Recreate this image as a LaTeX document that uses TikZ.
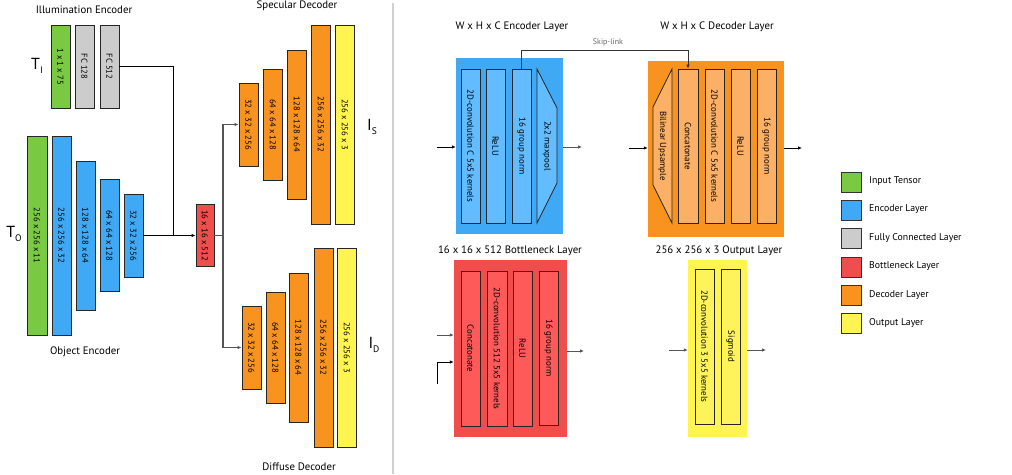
\documentclass[tikz,border=0pt]{standalone}
\usepackage{fontspec}
\setmainfont{PT Sans}
\usetikzlibrary{arrows.meta}
\definecolor{cgreen}{HTML}{7AC943}
\definecolor{cblue}{HTML}{3FA9F5}
\definecolor{cblueL}{HTML}{62BCFF}
\definecolor{cgray}{HTML}{CCCCCC}
\definecolor{cred}{HTML}{F04D4D}
\definecolor{credL}{HTML}{FF5A5A}
\definecolor{corange}{HTML}{F7931E}
\definecolor{corangeL}{HTML}{FBB066}
\definecolor{cyellow}{HTML}{FFF450}
\definecolor{cyellowL}{HTML}{FFF35C}
\definecolor{cline}{HTML}{555555}
\definecolor{csep}{HTML}{D0D0D0}
\newcommand{\vt}[1]{\rotatebox{-90}{#1}}
\tikzset{
  blk/.style={draw=black!85, line width=0.9pt, inner sep=0pt, font=\fontsize{8.6}{9}\selectfont},
  inblk/.style={draw=black!85, line width=0.8pt, inner sep=0pt, font=\fontsize{8.9}{9}\selectfont},
  trtxt/.style={inner sep=0pt, font=\fontsize{8.9}{9}\selectfont},
  cont/.style={draw=none, inner sep=0pt},
  ttl/.style={font=\fontsize{10.8}{11}\selectfont, inner sep=0pt},
  lgd/.style={font=\fontsize{9.8}{10}\selectfont, inner sep=0pt, anchor=west},
  lgbox/.style={draw=black!80, line width=0.9pt, minimum width=20pt, minimum height=20pt, inner sep=0pt},
  arr/.style={-{Latex[length=4pt,width=3.5pt]}, line width=0.9pt, cline},
  arrk/.style={-{Latex[length=4pt,width=3.5pt]}, line width=0.8pt, black},
  ln/.style={line width=0.8pt, black},
}
\begin{document}
\begin{tikzpicture}[x=1pt,y=-1pt]
\useasboundingbox (0,0) rectangle (1012,474);
% separator
\draw[csep, line width=2.5pt] (393,3) -- (393,474);

% ---------- Illumination encoder ----------
\node[ttl] (tIll) at (84,10) {Illumination Encoder};
\node[inner sep=0pt] (TI) at (37,66) {\fontsize{16}{16}\selectfont T\raisebox{-0.45ex}{\fontsize{9.5}{9.5}\selectfont I}};
\node[blk, fill=cgreen, minimum width=19pt, minimum height=83pt] (ig) at (60.5,66.5) {\vt{1 x 1 x 75}};
\node[blk, fill=cgray, minimum width=19pt, minimum height=83pt] (fc1) at (84.5,66.5) {\vt{FC 128}};
\node[blk, fill=cgray, minimum width=19pt, minimum height=83pt] (fc2) at (109.5,66.5) {\vt{FC 512}};

% ---------- Object encoder ----------
\node[inner sep=0pt] (TO) at (14,234) {\fontsize{16}{16}\selectfont T\raisebox{-0.45ex}{\fontsize{9.5}{9.5}\selectfont O}};
\node[blk, fill=cgreen, minimum width=20pt, minimum height=199pt] (og) at (37,235.5) {\vt{256 x 256 x 11}};
\node[blk, fill=cblue, minimum width=19pt, minimum height=199pt] (b1) at (61.5,235.5) {\vt{256 x 256 x 32}};
\node[blk, fill=cblue, minimum width=19pt, minimum height=149pt] (b2) at (85.5,235.5) {\vt{128 x 128 x 64}};
\node[blk, fill=cblue, minimum width=19pt, minimum height=112pt] (b3) at (109.5,235.5) {\vt{64 x 64 x 128}};
\node[blk, fill=cblue, minimum width=19pt, minimum height=83pt] (b4) at (133.5,235.5) {\vt{32 x 32 x 256}};
\node[ttl] (tObj) at (85,352) {Object Encoder};

% bottleneck
\node[blk, fill=cred, minimum width=18pt, minimum height=62pt] (rb) at (205,235.5) {\vt{16 x 16 x 512}};
\coordinate (jn) at (173,235.5);
\coordinate (split) at (223,235.5);
\draw[ln] (fc2.east) -| (jn);
\draw[arrk] (b4.east) -- (rb.west);

% ---------- Specular decoder ----------
\node[ttl] (tSpec) at (297,6) {Specular Decoder};
\node[blk, fill=corange, minimum width=19pt, minimum height=83pt] (s1) at (248.5,124.5) {\vt{32 x 32 x 256}};
\node[blk, fill=corange, minimum width=19.5pt, minimum height=111pt] (s2) at (273,124.5) {\vt{64 x 64 x 128}};
\node[blk, fill=corange, minimum width=19.5pt, minimum height=149pt] (s3) at (297,124.5) {\vt{128 x 128 x 64}};
\node[blk, fill=corange, minimum width=19.5pt, minimum height=199pt] (s4) at (321,124.5) {\vt{256 x 256 x 32}};
\node[blk, fill=cyellow, minimum width=19.5pt, minimum height=199pt] (s5) at (345,124.5) {\vt{256 x 256 x 3}};
\node[inner sep=0pt] (IS) at (372,127) {\fontsize{16}{16}\selectfont I\raisebox{-0.45ex}{\fontsize{9.5}{9.5}\selectfont S}};

% ---------- Diffuse decoder ----------
\node[blk, fill=corange, minimum width=19pt, minimum height=83pt] (d1) at (251.5,347.5) {\vt{32 x 32 x 256}};
\node[blk, fill=corange, minimum width=19pt, minimum height=111pt] (d2) at (275.5,347.5) {\vt{64 x 64 x 128}};
\node[blk, fill=corange, minimum width=19pt, minimum height=149pt] (d3) at (298.5,347.5) {\vt{128 x 128 x 64}};
\node[blk, fill=corange, minimum width=19pt, minimum height=199pt] (d4) at (323.5,347.5) {\vt{256 x 256 x 32}};
\node[blk, fill=cyellow, minimum width=19.5pt, minimum height=199pt] (d5) at (347,347.5) {\vt{256 x 256 x 3}};
\node[inner sep=0pt] (ID) at (374,345) {\fontsize{16}{16}\selectfont I\raisebox{-0.45ex}{\fontsize{9.5}{9.5}\selectfont D}};
\node[ttl] (tDiff) at (299,467) {Diffuse Decoder};

\draw[line width=1.2pt, cline] (rb.east) -- (split);
\draw[arr, line width=1.2pt] (split) |- (s1.west);
\draw[arr, line width=1.2pt] (split) |- (d1.west);

% ---------- Encoder layer detail ----------
\node[ttl] (tEL) at (512,27) {W x H x C Encoder Layer};
\node[cont, fill=cblue, minimum width=107pt, minimum height=176pt] (el) at (509.5,146) {};
\node[inblk, fill=cblueL, minimum width=19pt, minimum height=154pt] (econv) at (470.5,146) {\vt{2D-convolution C 5x5 kernels}};
\node[inblk, fill=cblueL, minimum width=19pt, minimum height=154pt] (erelu) at (495.5,146) {\vt{ReLU}};
\node[inblk, fill=cblueL, minimum width=19pt, minimum height=154pt] (egn) at (521.5,146) {\vt{16 group norm}};
\draw[draw=black!85, line width=0.8pt, fill=cblueL] (537,69) -- (557,108) -- (557,183) -- (537,223) -- cycle;
\node[trtxt] (emp) at (547,146) {\vt{2x2 maxpool}};
\coordinate (ein) at (437,147);
\coordinate (eout) at (582,147);
\draw[arrk] (ein) -- (ein -| el.west);
\draw[arr] (eout -| el.east) -- (eout);

% ---------- Decoder layer detail ----------
\node[ttl] (tDL) at (717,27) {W x H x C Decoder Layer};
\node[cont, fill=corange, minimum width=136pt, minimum height=176pt] (dl) at (716,149) {};
\draw[draw=black!85, line width=0.8pt, fill=corangeL] (653,107) -- (672,69) -- (672,223) -- (653,185) -- cycle;
\node[trtxt] (dup) at (662.5,146) {\vt{Bilinear Upsample}};
\node[inblk, fill=corangeL, minimum width=20pt, minimum height=154pt] (dcat) at (688,146) {\vt{Concatonate}};
\node[inblk, fill=corangeL, minimum width=19pt, minimum height=154pt] (dconv) at (714.5,146) {\vt{2D-convolution C 5x5 kernels}};
\node[inblk, fill=corangeL, minimum width=19pt, minimum height=154pt] (drelu) at (740.5,146) {\vt{ReLU}};
\node[inblk, fill=corangeL, minimum width=19pt, minimum height=154pt] (dgn) at (766.5,146) {\vt{16 group norm}};
\coordinate (din) at (629,148);
\coordinate (dout) at (802,148);
\draw[arrk] (din) -- (din -| dl.west);
\draw[arrk] (dout -| dl.east) -- (dout);

% skip link
\draw[arrk, draw=black!80] (egn.north) -- ++(0,-18) -| (dcat.north);
\node[inner sep=0pt, font=\fontsize{8}{8}\selectfont, text=black!60] (skl) at (608,42) {Skip-link};

% ---------- Bottleneck layer detail ----------
\node[ttl] (tBL) at (510,251) {16 x 16 x 512 Bottleneck Layer};
\node[cont, fill=cred, minimum width=113pt, minimum height=177pt] (bl) at (510.5,348.5) {};
\node[inblk, fill=credL, minimum width=19pt, minimum height=155pt] (bcat) at (470.5,348.5) {\vt{Concatonate}};
\node[inblk, fill=credL, minimum width=20pt, minimum height=155pt] (bconv) at (497,348.5) {\vt{2D-convolution 512 5x5 kernels}};
\node[inblk, fill=credL, minimum width=19pt, minimum height=155pt] (brelu) at (522.5,348.5) {\vt{ReLU}};
\node[inblk, fill=credL, minimum width=19pt, minimum height=154pt] (bgn) at (548.5,348) {\vt{16 group norm}};
\coordinate (bin1) at (437,335);
\coordinate (bin2s) at (437,384);
\coordinate (bin2) at (437,362);
\coordinate (bout) at (584,351);
\draw[arr] (bin1) -- (bin1 -| bl.west);
\draw[arrk] (bin2s) -- (bin2) -- (bin2 -| bl.west);
\draw[arr] (bout -| bl.east) -- (bout);

% ---------- Output layer detail ----------
\node[ttl] (tOL) at (719,251) {256 x 256 x 3 Output Layer};
\node[cont, fill=cyellow, minimum width=59pt, minimum height=177pt] (ol) at (717.5,348.5) {};
\node[inblk, fill=cyellowL, minimum width=19pt, minimum height=155pt] (oconv) at (704.5,346.5) {\vt{2D-convolution 3 5x5 kernels}};
\node[inblk, fill=cyellowL, minimum width=19pt, minimum height=155pt] (osig) at (730.5,346.5) {\vt{Sigmoid}};
\coordinate (oin) at (669,350);
\coordinate (oout) at (766,350);
\draw[arr] (oin) -- (oin -| ol.west);
\draw[arr] (oout -| ol.east) -- (oout);

% ---------- Legend ----------
\node[lgbox, fill=cgreen] (lg1) at (851,182) {};
\node[lgbox, fill=cblue] (lg2) at (851,210) {};
\node[lgbox, fill=cgray] (lg3) at (851,238) {};
\node[lgbox, fill=cred] (lg4) at (851,267) {};
\node[lgbox, fill=corange] (lg5) at (851,295) {};
\node[lgbox, fill=cyellow] (lg6) at (851,323) {};
\node[lgd] (lt1) at (869,181) {Input Tensor};
\node[lgd] (lt2) at (869,209) {Encoder Layer};
\node[lgd] (lt3) at (869,238) {Fully Connected Layer};
\node[lgd] (lt4) at (869,266) {Bottleneck Layer};
\node[lgd] (lt5) at (869,295) {Decoder Layer};
\node[lgd] (lt6) at (869,323) {Output Layer};
\end{tikzpicture}
\end{document}
